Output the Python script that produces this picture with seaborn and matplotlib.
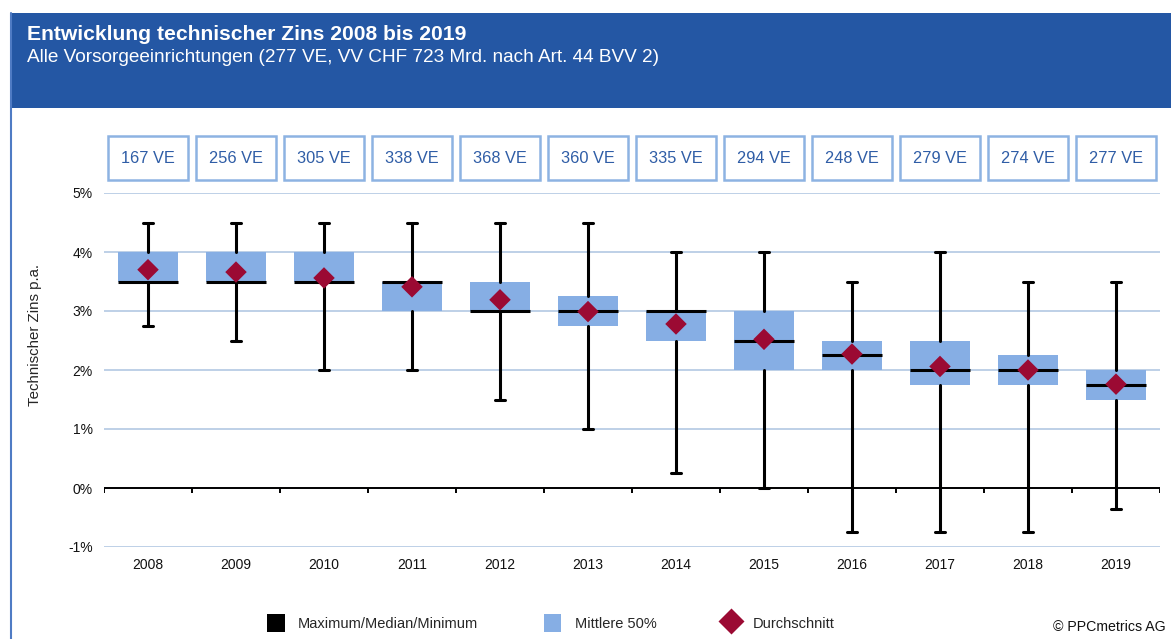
import numpy as np
import pandas as pd
import matplotlib
matplotlib.use('Agg')
import matplotlib.pyplot as plt
from matplotlib.patches import Rectangle, Patch
from matplotlib.lines import Line2D
import matplotlib.transforms as mtransforms
import seaborn as sns

# data (in %)
years = ['2008', '2009', '2010', '2011', '2012', '2013',
         '2014', '2015', '2016', '2017', '2018', '2019']
n_ve = [167, 256, 305, 338, 368, 360, 335, 294, 248, 279, 274, 277]
maximum = [4.5, 4.5, 4.5, 4.5, 4.5, 4.5, 4.0, 4.0, 3.5, 4.0, 3.5, 3.5]
q3 = [4.0, 4.0, 4.0, 3.5, 3.5, 3.25, 3.0, 3.0, 2.5, 2.5, 2.25, 2.0]
median = [3.5, 3.5, 3.5, 3.5, 3.0, 3.0, 3.0, 2.5, 2.25, 2.0, 2.0, 1.75]
q1 = [3.5, 3.5, 3.5, 3.0, 3.0, 2.75, 2.5, 2.0, 2.0, 1.75, 1.75, 1.5]
minimum = [2.75, 2.5, 2.0, 2.0, 1.5, 1.0, 0.25, 0.0, -0.75, -0.75, -0.75, -0.35]
mean = [3.70, 3.66, 3.56, 3.41, 3.19, 2.99, 2.78, 2.52, 2.27, 2.06, 2.00, 1.76]

header_blue = '#2457A4'
box_blue = '#86AEE4'
dark_red = '#9B0A33'
grid_blue = '#B9CDE5'
text_blue = '#2F5DA6'

sns.set_theme(style='white')
plt.rcParams['font.family'] = ['Liberation Sans', 'DejaVu Sans']

W, H = 1171, 639
fig = plt.figure(figsize=(W / 100, H / 100), dpi=100)

# header band
fig.patches.append(Rectangle((10 / W, 1 - 108 / H), 1, (108 - 13) / H,
                             transform=fig.transFigure, facecolor=header_blue,
                             edgecolor='none', zorder=0))
fig.lines.append(Line2D([11 / W, 11 / W], [0, 1 - 13 / H], transform=fig.transFigure,
                        color='#4F7BC4', lw=1.5))
fig.text(27 / W, 1 - 35 / H, 'Entwicklung technischer Zins 2008 bis 2019',
         color='white', fontsize=15.2, fontweight='bold', va='center')
fig.text(27 / W, 1 - 57 / H,
         'Alle Vorsorgeeinrichtungen (277 VE, VV CHF 723 Mrd. nach Art. 44 BVV 2)',
         color='white', fontsize=13.7, va='center')

ax = fig.add_axes([104 / W, 1 - 547 / H, (1160 - 104) / W, (547 - 193) / H])

pos = np.arange(len(years))
stats = [dict(med=median[i], q1=q1[i], q3=q3[i], whislo=minimum[i],
              whishi=maximum[i], fliers=[]) for i in range(len(years))]
ax.bxp(stats, positions=pos, widths=0.68, capwidths=0.12, patch_artist=True,
       showfliers=False,
       boxprops=dict(facecolor=box_blue, edgecolor='none', linewidth=0),
       whiskerprops=dict(color='black', linewidth=2.2),
       capprops=dict(color='black', linewidth=2.2),
       medianprops=dict(color='black', linewidth=2.2))

df = pd.DataFrame({'pos': pos, 'mean': mean})
sns.scatterplot(data=df, x='pos', y='mean', marker='D', s=120, color=dark_red,
                edgecolor='none', ax=ax, zorder=5, legend=False)

ax.set_xlim(-0.5, len(years) - 0.5)
ax.set_ylim(-1, 5)
ax.set_yticks(np.arange(-1, 6))
ax.set_yticklabels([f'{v}%' for v in range(-1, 6)], fontsize=10)
ax.yaxis.grid(True, color=grid_blue, linewidth=1.3)
ax.set_axisbelow(True)
ax.set_xticks(pos)
ax.set_xticklabels(years, fontsize=10)
ax.tick_params(axis='both', length=0, pad=8, colors='#111111')
ax.set_xlabel('')
ax.set_ylabel('Technischer Zins p.a.', fontsize=10.8)
ax.yaxis.set_label_coords(-0.059, 0.599)
for s in ax.spines.values():
    s.set_visible(False)

# zero axis line with category ticks
ax.axhline(0, color='black', lw=1.4, zorder=1)
ax.vlines(np.arange(-0.5, len(years)), -0.09, 0, color='black', lw=1.4, zorder=1)

# number of institutions boxes above the plot
trans = mtransforms.blended_transform_factory(ax.transData, ax.transAxes)
for p, n in zip(pos, n_ve):
    ax.add_patch(Rectangle((p - 0.46, 1.0367), 0.92, 0.1243, transform=trans,
                           facecolor='white', edgecolor='#8DB3E2', lw=1.8,
                           clip_on=False))
    ax.text(p, 1.0367 + 0.0621, f'{n} VE', transform=trans, ha='center',
            va='center', fontsize=11.8, color=text_blue)

handles = [Patch(facecolor='black', edgecolor='none'),
           Patch(facecolor=box_blue, edgecolor='none'),
           Line2D([], [], marker='D', color=dark_red, linestyle='none',
                  markersize=13, markeredgecolor='none')]
fig.legend(handles, ['Maximum/Median/Minimum', 'Mittlere 50%', 'Durchschnitt'],
           loc='center', bbox_to_anchor=(0.4705, 1 - 623 / H), ncol=3,
           frameon=False, fontsize=10.5, columnspacing=4.5, handlelength=1.2,
           handleheight=1.5, handletextpad=0.9)
fig.text(1166 / W, 1 - 627 / H, '© PPCmetrics AG', fontsize=10.2, va='center',
         ha='right', color='#111111')

fig.savefig('out.png', dpi=100)
